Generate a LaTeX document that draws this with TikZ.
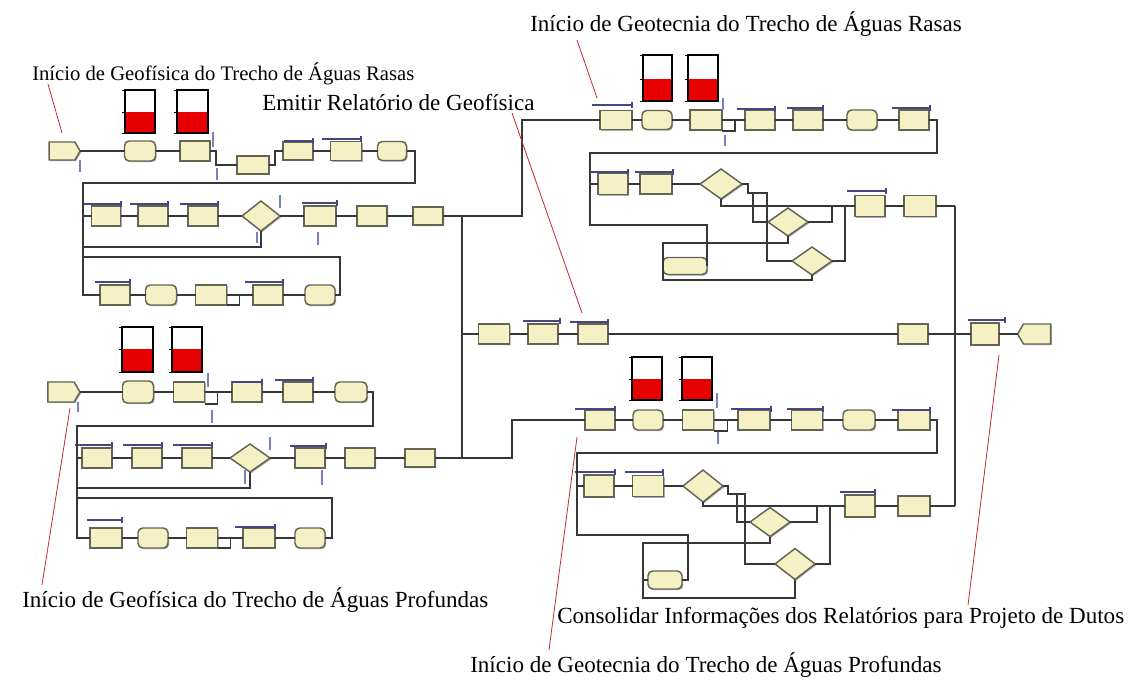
\documentclass[tikz,border=0pt]{standalone}
\usepackage{fontspec}
\setmainfont{Liberation Serif}
\usetikzlibrary{shapes.geometric,shapes.symbols,shapes.misc,shadows}
\definecolor{modf}{RGB}{246,241,196}
\definecolor{modb}{RGB}{100,100,85}
\definecolor{wirec}{RGB}{55,55,55}
\definecolor{resc}{RGB}{70,70,130}
\definecolor{qc}{RGB}{120,130,195}
\definecolor{meterred}{RGB}{230,0,0}
\definecolor{ptr}{RGB}{200,40,50}
\newcommand\resourcebar[3]{\draw[res] (#1,#3) -- (#2,#3) (#2,#3-3) -- (#2,#3+3);}
\newcommand\levelmeter[5]{%
  \fill[meterred] (#1,#4) rectangle (#2,#5);
  \draw[black, line width=0.8pt] (#1,#3) rectangle (#2,#5);
  \draw[black, line width=0.5pt] (#1-3,#3) -- (#1,#3) (#1-3,#4) -- (#1,#4) (#1-3,#5) -- (#1,#5);}
\newcommand\queueline[3]{\draw[queue] (#1,#2) -- (#1,#3);}
\begin{document}
\begin{tikzpicture}[x=0.75pt,y=-0.75pt,
  mod/.style={draw=modb, fill=modf, line width=1.1pt, inner sep=0pt, outer sep=0pt,
    drop shadow={shadow xshift=0.9pt, shadow yshift=-0.9pt, fill=black!55, opacity=0.6}},
  sz/.style 2 args={minimum width=#1*0.75pt, minimum height=#2*0.75pt},
  proc/.style={mod, rectangle},
  rnd/.style={mod, rectangle, rounded corners=3.5pt},
  rec/.style={mod, chamfered rectangle, chamfered rectangle corners=north west, chamfered rectangle sep=3pt},
  crt/.style={mod, signal, signal to=east, signal pointer angle=120},
  dsp/.style={mod, signal, signal to=west, signal pointer angle=120},
  dec/.style={mod, diamond},
  wire/.style={draw=wirec, line width=1pt},
  res/.style={draw=resc, line width=1.3pt},
  queue/.style={draw=qc, line width=0.9pt},
  ptrline/.style={draw=ptr, line width=0.6pt},
  lbl/.style={font=\fontsize{17.3}{20}\selectfont, inner sep=0pt, anchor=west},
  lblsmall/.style={font=\fontsize{15.5}{18}\selectfont, inner sep=0pt, anchor=west}]
\useasboundingbox (0,0) rectangle (1131,684);
\fill[white] (0,0) rectangle (1131,684);

% ---------- labels ----------
\node[lblsmall] (t1) at (32,74) {Início de Geofísica do Trecho de Águas Rasas};
\node[lbl] (t2) at (262,102) {Emitir Relatório de Geofísica};
\node[lbl] (t3) at (530,24) {Início de Geotecnia do Trecho de Águas Rasas};
\node[lbl] (t4) at (22,600) {Início de Geofísica do Trecho de Águas Profundas};
\node[lbl] (t5) at (557,618) {Consolidar Informações dos Relatórios para Projeto de Dutos};
\node[lbl] (t6) at (470,665) {Início de Geotecnia do Trecho de Águas Profundas};

% ---------- level meters ----------
\levelmeter{125}{155}{90}{112}{133}
\levelmeter{177}{208}{90}{112}{133}
\levelmeter{122}{153}{327}{349}{372}
\levelmeter{172}{202}{327}{349}{372}
\levelmeter{643}{672}{55}{79}{101}
\levelmeter{688}{718}{55}{79}{101}
\levelmeter{632}{662}{357}{379}{400}
\levelmeter{682}{712}{357}{379}{400}

% ---------- junction coordinates ----------
\coordinate (jt) at (462,216);
\coordinate (jm) at (462,334);
\coordinate (jb) at (462,458);
\coordinate (rt) at (955,206);
\coordinate (rm) at (955,334);
\coordinate (rb) at (955,506);
\coordinate (jE) at (590,184);
\coordinate (jK) at (577,486);

% ---------- Geofisica Aguas Rasas ----------
\node[crt, sz={31}{18}] (A1) at (62,151) {};
\node[rnd, sz={31}{20}] (A2) at (140,151) {};
\node[proc, sz={30}{20}] (A3) at (195,151) {};
\node[proc, sz={32}{18}] (A4) at (253,165) {};
\node[proc, sz={30}{18}] (A5) at (298,151) {};
\node[proc, sz={31}{19}] (A6) at (346,151) {};
\node[rnd, sz={29}{19}] (A7) at (392,151) {};
\node[proc, sz={29}{20}] (B1) at (106,216) {};
\node[proc, sz={30}{20}] (B2) at (153,216) {};
\node[proc, sz={30}{20}] (B3) at (203,216) {};
\node[dec, sz={38}{30}] (B4) at (261,216) {};
\node[proc, sz={32}{20}] (B5) at (320,216) {};
\node[rec, sz={30}{20}] (B6) at (372,216) {};
\node[rec, sz={30}{18}] (B7) at (428,216) {};
\node[proc, sz={30}{20}] (D1) at (115,295) {};
\node[rnd, sz={31}{20}] (D2) at (161,295) {};
\node[proc, sz={31}{20}] (D3) at (211,295) {};
\node[proc, sz={30}{20}] (D4) at (268,295) {};
\node[rnd, sz={30}{20}] (D5) at (320,295) {};
\resourcebar{284}{313}{141}
\resourcebar{322}{361}{139}
\resourcebar{84}{121}{204}
\resourcebar{130}{168}{204}
\resourcebar{180}{218}{204}
\resourcebar{302}{337}{203}
\resourcebar{95}{130}{282}
\resourcebar{245}{283}{282}

\draw[wire] (A1.east) -- (A2.west);
\draw[wire] (A2.east) -- (A3.west);
\draw[wire] (A3.east) -- (216,151) |- (A4.west);
\draw[wire] (A4.east) -- (275,165) |- (A5.west);
\draw[wire] (A5.east) -- (A6.west);
\draw[wire] (A6.east) -- (A7.west);
\draw[wire] (A7.east) -- (415,151) -- (415,183) -- (83,183) |- (B1.west);
\draw[wire] (B1.east) -- (B2.west);
\draw[wire] (B2.east) -- (B3.west);
\draw[wire] (B3.east) -- (B4.west);
\draw[wire] (B4.east) -- (B5.west);
\draw[wire] (B5.east) -- (B6.west);
\draw[wire] (B6.east) -- (B7.west);
\draw[wire] (B4.south) |- (83,247) |- (D1.west);
\draw[wire] (D1.east) -- (D2.west);
\draw[wire] (D2.east) -- (D3.west);
\draw[wire] (D3.east) -- ++(13,0) -- ++(0,10) -- ++(-13,0);
\draw[wire] (D3.east) -- (D4.west);
\draw[wire] (D4.east) -- (D5.west);
\draw[wire] (D5.east) -- (340,295) |- (83,257) -- (83,216) -- (B1.west);
\draw[wire] (jt) -- (jb);

% ---------- Geofisica Aguas Profundas ----------
\node[crt, sz={32}{20}] (P1) at (61,392) {};
\node[rnd, sz={31}{22}] (P2) at (138,392) {};
\node[proc, sz={31}{20}] (P3) at (189,392) {};
\node[proc, sz={30}{20}] (P4) at (247,392) {};
\node[proc, sz={30}{20}] (P5) at (298,392) {};
\node[rnd, sz={32}{20}] (P6) at (351,392) {};
\node[proc, sz={30}{20}] (Q1) at (97,458) {};
\node[proc, sz={30}{20}] (Q2) at (147,458) {};
\node[proc, sz={30}{20}] (Q3) at (197,458) {};
\node[dec, sz={40}{28}] (Q4) at (250,458) {};
\node[proc, sz={30}{20}] (Q5) at (310,458) {};
\node[rec, sz={30}{20}] (Q6) at (360,458) {};
\node[rec, sz={30}{18}] (Q7) at (420,458) {};
\node[proc, sz={32}{20}] (R1) at (106,538) {};
\node[rnd, sz={30}{20}] (R2) at (153,538) {};
\node[proc, sz={31}{20}] (R3) at (202,538) {};
\node[proc, sz={32}{20}] (R4) at (259,538) {};
\node[rnd, sz={30}{20}] (R5) at (310,538) {};
\resourcebar{232}{262}{382}
\resourcebar{275}{313}{380}
\resourcebar{75}{112}{445}
\resourcebar{123}{162}{445}
\resourcebar{173}{212}{445}
\resourcebar{290}{326}{446}
\resourcebar{87}{122}{520}
\resourcebar{235}{275}{527}

\draw[wire] (P1.east) -- (P2.west);
\draw[wire] (P2.east) -- (P3.west);
\draw[wire] (P3.east) -- ++(13,0) -- ++(0,12) -- ++(-13,0);
\draw[wire] (P3.east) -- (P4.west);
\draw[wire] (P4.east) -- (P5.west);
\draw[wire] (P5.east) -- (P6.west);
\draw[wire] (P6.east) -- (373,392) |- (77,426) |- (Q1.west);
\draw[wire] (Q1.east) -- (Q2.west);
\draw[wire] (Q2.east) -- (Q3.west);
\draw[wire] (Q3.east) -- (Q4.west);
\draw[wire] (Q4.east) -- (Q5.west);
\draw[wire] (Q5.east) -- (Q6.west);
\draw[wire] (Q6.east) -- (Q7.west);
\draw[wire] (Q4.south) |- (77,488) |- (R1.west);
\draw[wire] (R1.east) -- (R2.west);
\draw[wire] (R2.east) -- (R3.west);
\draw[wire] (R3.east) -- ++(13,0) -- ++(0,10) -- ++(-13,0);
\draw[wire] (R3.east) -- (R4.west);
\draw[wire] (R4.east) -- (R5.west);
\draw[wire] (R5.east) -- (332,538) |- (77,498) -- (77,458) -- (Q1.west);

% ---------- middle row ----------
\node[rec, sz={31}{20}] (M1) at (494,334) {};
\node[proc, sz={30}{20}] (M2) at (543,334) {};
\node[proc, sz={30}{20}] (M3) at (593,334) {};
\node[rec, sz={30}{20}] (M4) at (913,334) {};
\node[proc, sz={28}{22}] (M5) at (985,334) {};
\node[dsp, sz={33}{20}] (M6) at (1037,334) {};
\resourcebar{523}{560}{321}
\resourcebar{570}{608}{322}
\resourcebar{968}{1005}{320}
\draw[wire] (jm) -- (M1.west);
\draw[wire] (M1.east) -- (M2.west);
\draw[wire] (M2.east) -- (M3.west);
\draw[wire] (M3.east) -- (M4.west);
\draw[wire] (M4.east) -- (M5.west);
\draw[wire] (M5.east) -- (M6.west);
\draw[wire] (rt) -- (rb);

% ---------- Geotecnia Aguas Rasas ----------
\node[proc, sz={32}{19}] (C1) at (616,120) {};
\node[rnd, sz={30}{19}] (C2) at (657,120) {};
\node[proc, sz={32}{20}] (C3) at (706,120) {};
\node[proc, sz={30}{20}] (C4) at (760,120) {};
\node[proc, sz={30}{20}] (C5) at (808,120) {};
\node[rnd, sz={30}{20}] (C6) at (862,120) {};
\node[proc, sz={30}{20}] (C7) at (914,120) {};
\node[proc, sz={30}{21}] (E1) at (613,184) {};
\node[proc, sz={32}{20}] (E2) at (656,184) {};
\node[dec, sz={42}{30}] (E3) at (721,184) {};
\node[dec, sz={40}{28}] (E4) at (788,222) {};
\node[dec, sz={40}{28}] (E5) at (812,261) {};
\node[proc, sz={30}{21}] (E6) at (870,206) {};
\node[rec, sz={32}{21}] (E7) at (920,206) {};
\node[rnd, sz={44}{17}] (E8) at (685,266) {};
\resourcebar{592}{632}{105}
\resourcebar{737}{775}{109}
\resourcebar{787}{823}{108}
\resourcebar{892}{930}{108}
\resourcebar{590}{628}{172}
\resourcebar{635}{673}{172}
\resourcebar{847}{886}{191}

\draw[wire] (C1.east) -- (C2.west);
\draw[wire] (C2.east) -- (C3.west);
\draw[wire] (C3.east) -- ++(13,0) -- ++(0,11) -- ++(-13,0);
\draw[wire] (C3.east) -- (C4.west);
\draw[wire] (C4.east) -- (C5.west);
\draw[wire] (C5.east) -- (C6.west);
\draw[wire] (C6.east) -- (C7.west);
\draw[wire] (C7.east) -- (937,120) -- (937,153) -- (590,153) |- (E1.west);
\draw[wire] (E1.east) -- (E2.west);
\draw[wire] (E2.east) -- (E3.west);
\draw[wire] (E3.south) |- (E6.west);
\draw[wire] (E3.east) -- (748,184) -- (748,193) -- (767,193) |- (E5.west);
\draw[wire] (753,193) |- (E4.west);
\draw[wire] (E4.east) -| (832,206);
\draw[wire] (E5.east) -| (845,206);
\draw[wire] (E4.south) -- (788,243) -| (E8.west);
\draw[wire] (E5.south) -- (812,280) -| (E8.west);
\draw[wire] (E8.east) -| (707,225) -| (jE);
\draw[wire] (E6.east) -- (E7.west);
\draw[wire] (E7.east) -- (rt);

% ---------- Geotecnia Aguas Profundas ----------
\node[proc, sz={30}{20}] (H1) at (600,420) {};
\node[rnd, sz={30}{20}] (H2) at (648,420) {};
\node[proc, sz={31}{20}] (H3) at (698,420) {};
\node[proc, sz={32}{20}] (H4) at (754,420) {};
\node[proc, sz={31}{20}] (H5) at (807,420) {};
\node[rnd, sz={32}{20}] (H6) at (859,420) {};
\node[proc, sz={32}{20}] (H7) at (914,420) {};
\node[proc, sz={30}{22}] (K1) at (599,486) {};
\node[proc, sz={31}{21}] (K2) at (648,486) {};
\node[dec, sz={40}{32}] (K3) at (703,486) {};
\node[dec, sz={40}{29}] (K4) at (770,522) {};
\node[dec, sz={40}{31}] (K5) at (795,564) {};
\node[proc, sz={30}{22}] (K6) at (860,506) {};
\node[rec, sz={32}{20}] (K7) at (914,506) {};
\node[rnd, sz={34}{18}] (K8) at (665,580) {};
\resourcebar{575}{615}{409}
\resourcebar{731}{771}{409}
\resourcebar{787}{823}{409}
\resourcebar{892}{930}{410}
\resourcebar{575}{615}{472}
\resourcebar{625}{663}{472}
\resourcebar{840}{875}{492}

\draw[wire] (H1.east) -- (H2.west);
\draw[wire] (H2.east) -- (H3.west);
\draw[wire] (H3.east) -- ++(14,0) -- ++(0,11) -- ++(-14,0);
\draw[wire] (H3.east) -- (H4.west);
\draw[wire] (H4.east) -- (H5.west);
\draw[wire] (H5.east) -- (H6.west);
\draw[wire] (H6.east) -- (H7.west);
\draw[wire] (H7.east) -| (937,453) -| (jK) -- (K1.west);
\draw[wire] (K1.east) -- (K2.west);
\draw[wire] (K2.east) -- (K3.west);
\draw[wire] (K3.south) |- (K6.west);
\draw[wire] (K3.east) -- (728,486) -- (728,494) -- (745,494) |- (K5.west);
\draw[wire] (737,494) |- (K4.west);
\draw[wire] (K4.east) -| (817,506);
\draw[wire] (K5.east) -| (830,506);
\draw[wire] (K4.south) -- (770,543) -- (643,543) |- (K8.west);
\draw[wire] (K5.south) -- (795,598) -- (643,598) |- (K8.west);
\draw[wire] (K8.east) -- (688,580) -- (688,535) -| (jK);
\draw[wire] (K6.east) -- (K7.west);
\draw[wire] (K7.east) -- (rb);

% ---------- cross-block connectors ----------
\draw[wire] (B7.east) -- (522,216) |- (C1.west);
\draw[wire] (Q7.east) -- (512,458) |- (H1.west);

% ---------- queue indicators ----------
\queueline{80}{160}{172}
\queueline{213}{132}{147}
\queueline{217}{168}{180}
\queueline{280}{195}{208}
\queueline{257}{232}{243}
\queueline{318}{232}{245}
\queueline{78}{402}{412}
\queueline{208}{373}{387}
\queueline{212}{410}{423}
\queueline{270}{437}{450}
\queueline{245}{470}{484}
\queueline{322}{470}{485}
\queueline{723}{98}{110}
\queueline{725}{135}{146}
\queueline{717}{393}{408}
\queueline{718}{432}{444}

% ---------- pointer lines ----------
\draw[ptrline] (48,84) -- (62,133);
\draw[ptrline] (512,113) -- (582,313);
\draw[ptrline] (577,40) -- (597,98);
\draw[ptrline] (70,408) -- (42,585);
\draw[ptrline] (999,355) -- (968,605);
\draw[ptrline] (577,437) -- (549,650);
\end{tikzpicture}
\end{document}
